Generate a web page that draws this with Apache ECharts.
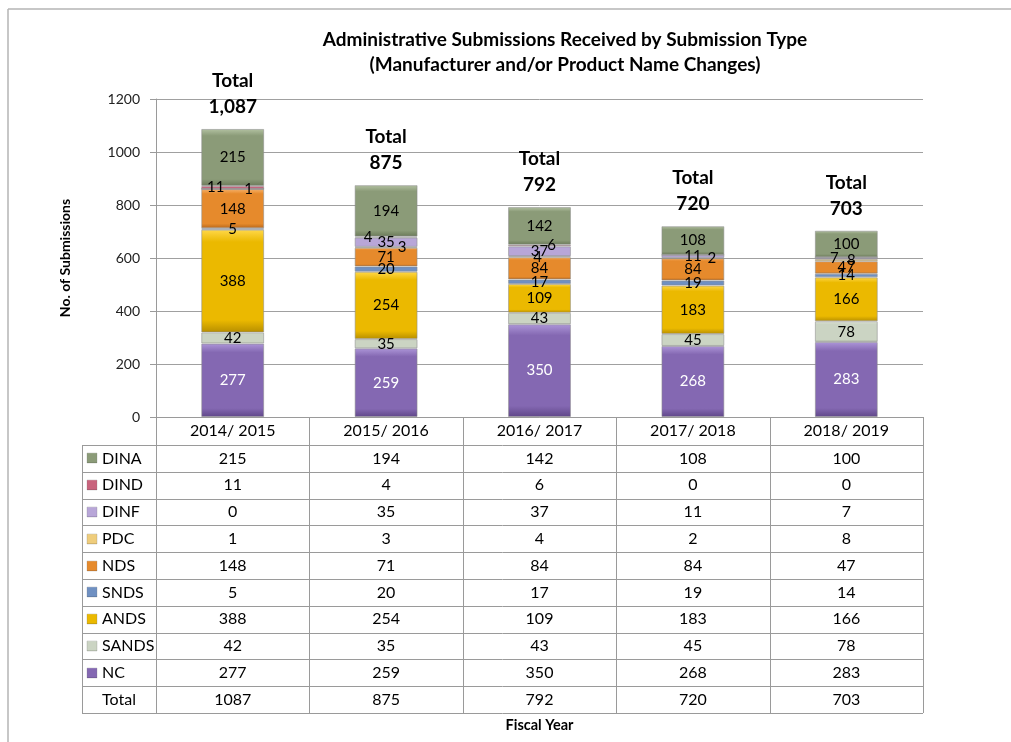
<!DOCTYPE html>
<html><head><meta charset="utf-8">
<script src="https://cdn.jsdelivr.net/npm/echarts@6/dist/echarts.min.js"></script>
<style>html,body{margin:0;padding:0;background:#fff}#c{width:1011px;height:742px}</style>
</head><body><div id="c"></div>
<script>
// ---------- DATA ----------
const categories = ['2014/ 2015', '2015/ 2016', '2016/ 2017', '2017/ 2018', '2018/ 2019'];
const NC    = [277, 259, 350, 268, 283];
const SANDS = [42, 35, 43, 45, 78];
const ANDS  = [388, 254, 109, 183, 166];
const SNDS  = [5, 20, 17, 19, 14];
const NDS   = [148, 71, 84, 84, 47];
const PDC   = [1, 3, 4, 2, 8];
const DINF  = [0, 35, 37, 11, 7];
const DIND  = [11, 4, 6, 0, 0];
const DINA  = [215, 194, 142, 108, 100];
const totals = [1087, 875, 792, 720, 703];
const yTicks = [0, 200, 400, 600, 800, 1000, 1200];

// stack order bottom -> top
const stackNames = ['NC', 'SANDS', 'ANDS', 'SNDS', 'NDS', 'PDC', 'DINF', 'DIND', 'DINA'];
const stackData  = [NC, SANDS, ANDS, SNDS, NDS, PDC, DINF, DIND, DINA];

// ---------- STYLE ----------
const colors = {
  NC:    ['#ad96d8', '#8468b2', '#5f4688'],
  SANDS: ['#eef2ea', '#cbd4c3', '#a5b09b'],
  ANDS:  ['#ffd84a', '#ebb900', '#b68e00'],
  SNDS:  ['#a3bde3', '#6f90c2', '#4b6a98'],
  NDS:   ['#f9b36a', '#e68a2c', '#b6661b'],
  PDC:   ['#fbe4a8', '#efcd7c', '#c8a457'],
  DINF:  ['#dcd0f0', '#b8a6d8', '#8f7db3'],
  DIND:  ['#e89aaa', '#c8637c', '#9a4459'],
  DINA:  ['#b3c2a2', '#8b9b78', '#6a7958']
};
const labelNudge = { PDC: [16, 16, -2, 19, 5], DIND: [-17, -18, 12, 0, 0], DINF: [0, 0, 0, 0, -12] };
const FONT = 'Lato, "Open Sans", sans-serif';
const G = { left: 156, right: 923, top: 99, bottom: 417 };
const tableLeft = 82, headerBottom = 445, tableBottom = 713;

function grad(name) {
  const c = colors[name];
  return new echarts.graphic.LinearGradient(0, 0, 0, 1, [
    { offset: 0, color: c[0] }, { offset: 0.12, color: c[1] },
    { offset: 0.88, color: c[1] }, { offset: 1, color: c[2] }
  ]);
}

const chart = echarts.init(document.getElementById('c'), null, { renderer: 'canvas' });

const series = stackNames.map((name, si) => {
  const arr = stackData[si];
  const nudge = labelNudge[name] || [0, 0, 0, 0, 0];
  return {
    name, type: 'bar', stack: 'total', barWidth: '41%',
    itemStyle: { color: grad(name), borderColor: 'rgba(140,140,140,0.55)', borderWidth: 1 },
    label: {
      show: true, position: 'inside', fontFamily: FONT, fontSize: 15,
      color: name === 'NC' ? '#fff' : '#000',
      formatter: p => (p.value === 0 ? '' : String(p.value))
    },
    data: arr.map((v, i) => ({ value: v, label: { offset: [nudge[i], 0] } }))
  };
});

// total label series (zero-height) on top of stack
series.push({
  name: 'TotalLabel', type: 'bar', stack: 'total', barWidth: '41%',
  itemStyle: { color: 'transparent' },
  label: {
    show: true, position: 'top', distance: 9, fontFamily: FONT, fontSize: 19, fontWeight: 'bold',
    color: '#000', lineHeight: 26, align: 'center',
    formatter: p => 'Total\n' + totals[p.dataIndex].toLocaleString('en-US')
  },
  data: totals.map(() => 0),
  silent: true
});

chart.setOption({
  animation: false,
  backgroundColor: '#fff',
  title: {
    text: 'Administrative Submissions Received by Submission Type\n(Manufacturer and/or Product Name Changes)',
    left: 560, top: 22, textAlign: 'center',
    textStyle: { fontFamily: FONT, fontSize: 19, fontWeight: 'bold', color: '#000', lineHeight: 25 }
  },
  grid: { left: G.left, right: 1011 - G.right, top: G.top, bottom: 742 - G.bottom },
  xAxis: {
    type: 'category', data: categories,
    axisLine: { lineStyle: { color: '#9a9a9a' } },
    axisTick: { show: false },
    axisLabel: { fontFamily: FONT, fontSize: 16, color: '#000', margin: 6, interval: 0 },
    name: 'Fiscal Year', nameLocation: 'middle', nameGap: 301,
    nameTextStyle: { fontFamily: FONT, fontSize: 14.5, fontWeight: 'bold', color: '#000' }
  },
  yAxis: {
    type: 'value', min: yTicks[0], max: yTicks[yTicks.length - 1], interval: yTicks[1] - yTicks[0],
    axisLine: { show: true, lineStyle: { color: '#9a9a9a' } },
    axisTick: { show: true, length: 6, lineStyle: { color: '#9a9a9a' } },
    splitLine: { lineStyle: { color: '#a0a0a0' } },
    axisLabel: { fontFamily: FONT, fontSize: 14, color: '#222', margin: 16, formatter: v => String(v) },
    name: 'No. of Submissions', nameLocation: 'middle', nameGap: 84, nameRotate: 90,
    nameTextStyle: { fontFamily: FONT, fontSize: 14, fontWeight: 'bold', color: '#000' }
  },
  series
});

// ---------- DATA TABLE ----------
const centers = categories.map(c => chart.convertToPixel({ xAxisIndex: 0 }, c));
const colW = centers.length > 1 ? centers[1] - centers[0] : (G.right - G.left);
const bounds = [centers[0] - colW / 2].concat(centers.map(c => c + colW / 2));
const rowNames = stackNames.slice().reverse();   // DINA ... NC
const rowData = stackData.slice().reverse();
const nRows = rowNames.length + 1;
const rowH = (tableBottom - headerBottom) / nRows;
const lineStyle = { stroke: '#9a9a9a', lineWidth: 1 };
const els = [];
const cellFont = '16px ' + FONT;

// frame
els.push({ type: 'line', shape: { x1: 8, y1: 9, x2: 1011, y2: 9 }, style: { stroke: '#b4b4b4', lineWidth: 1.5 } });
els.push({ type: 'line', shape: { x1: 8, y1: 9, x2: 8, y2: 742 }, style: { stroke: '#b4b4b4', lineWidth: 1.5 } });

// horizontal lines
for (let r = 0; r <= nRows; r++) {
  const y = Math.round(headerBottom + r * rowH) + 0.5;
  els.push({ type: 'line', shape: { x1: tableLeft, y1: y, x2: bounds[bounds.length - 1], y2: y }, style: lineStyle });
}
// vertical lines
els.push({ type: 'line', shape: { x1: tableLeft + 0.5, y1: headerBottom, x2: tableLeft + 0.5, y2: tableBottom }, style: lineStyle });
bounds.forEach(x => {
  const xx = Math.round(x) + 0.5;
  els.push({ type: 'line', shape: { x1: xx, y1: G.bottom, x2: xx, y2: tableBottom }, style: lineStyle });
});

// row cells
const allRows = rowNames.concat(['Total']);
const allData = rowData.concat([totals]);
allRows.forEach((name, r) => {
  const cy = headerBottom + (r + 0.5) * rowH;
  if (name !== 'Total') {
    els.push({
      type: 'rect', shape: { x: 87, y: Math.round(cy) - 5, width: 10, height: 10 },
      style: { fill: grad(name), stroke: 'rgba(120,120,120,0.5)', lineWidth: 0.5 }
    });
    els.push({ type: 'text', x: 102, y: cy, style: { text: name, font: cellFont, fill: '#000', textVerticalAlign: 'middle', verticalAlign: 'middle' } });
  } else {
    els.push({ type: 'text', x: (tableLeft + G.left) / 2, y: cy, style: { text: 'Total', font: cellFont, fill: '#000', align: 'center', textAlign: 'center', verticalAlign: 'middle', textVerticalAlign: 'middle' } });
  }
  allData[r].forEach((v, i) => {
    els.push({ type: 'text', x: centers[i], y: cy, style: { text: String(v), font: cellFont, fill: '#000', align: 'center', textAlign: 'center', verticalAlign: 'middle', textVerticalAlign: 'middle' } });
  });
});

chart.setOption({ graphic: { elements: els } });
</script></body></html>
